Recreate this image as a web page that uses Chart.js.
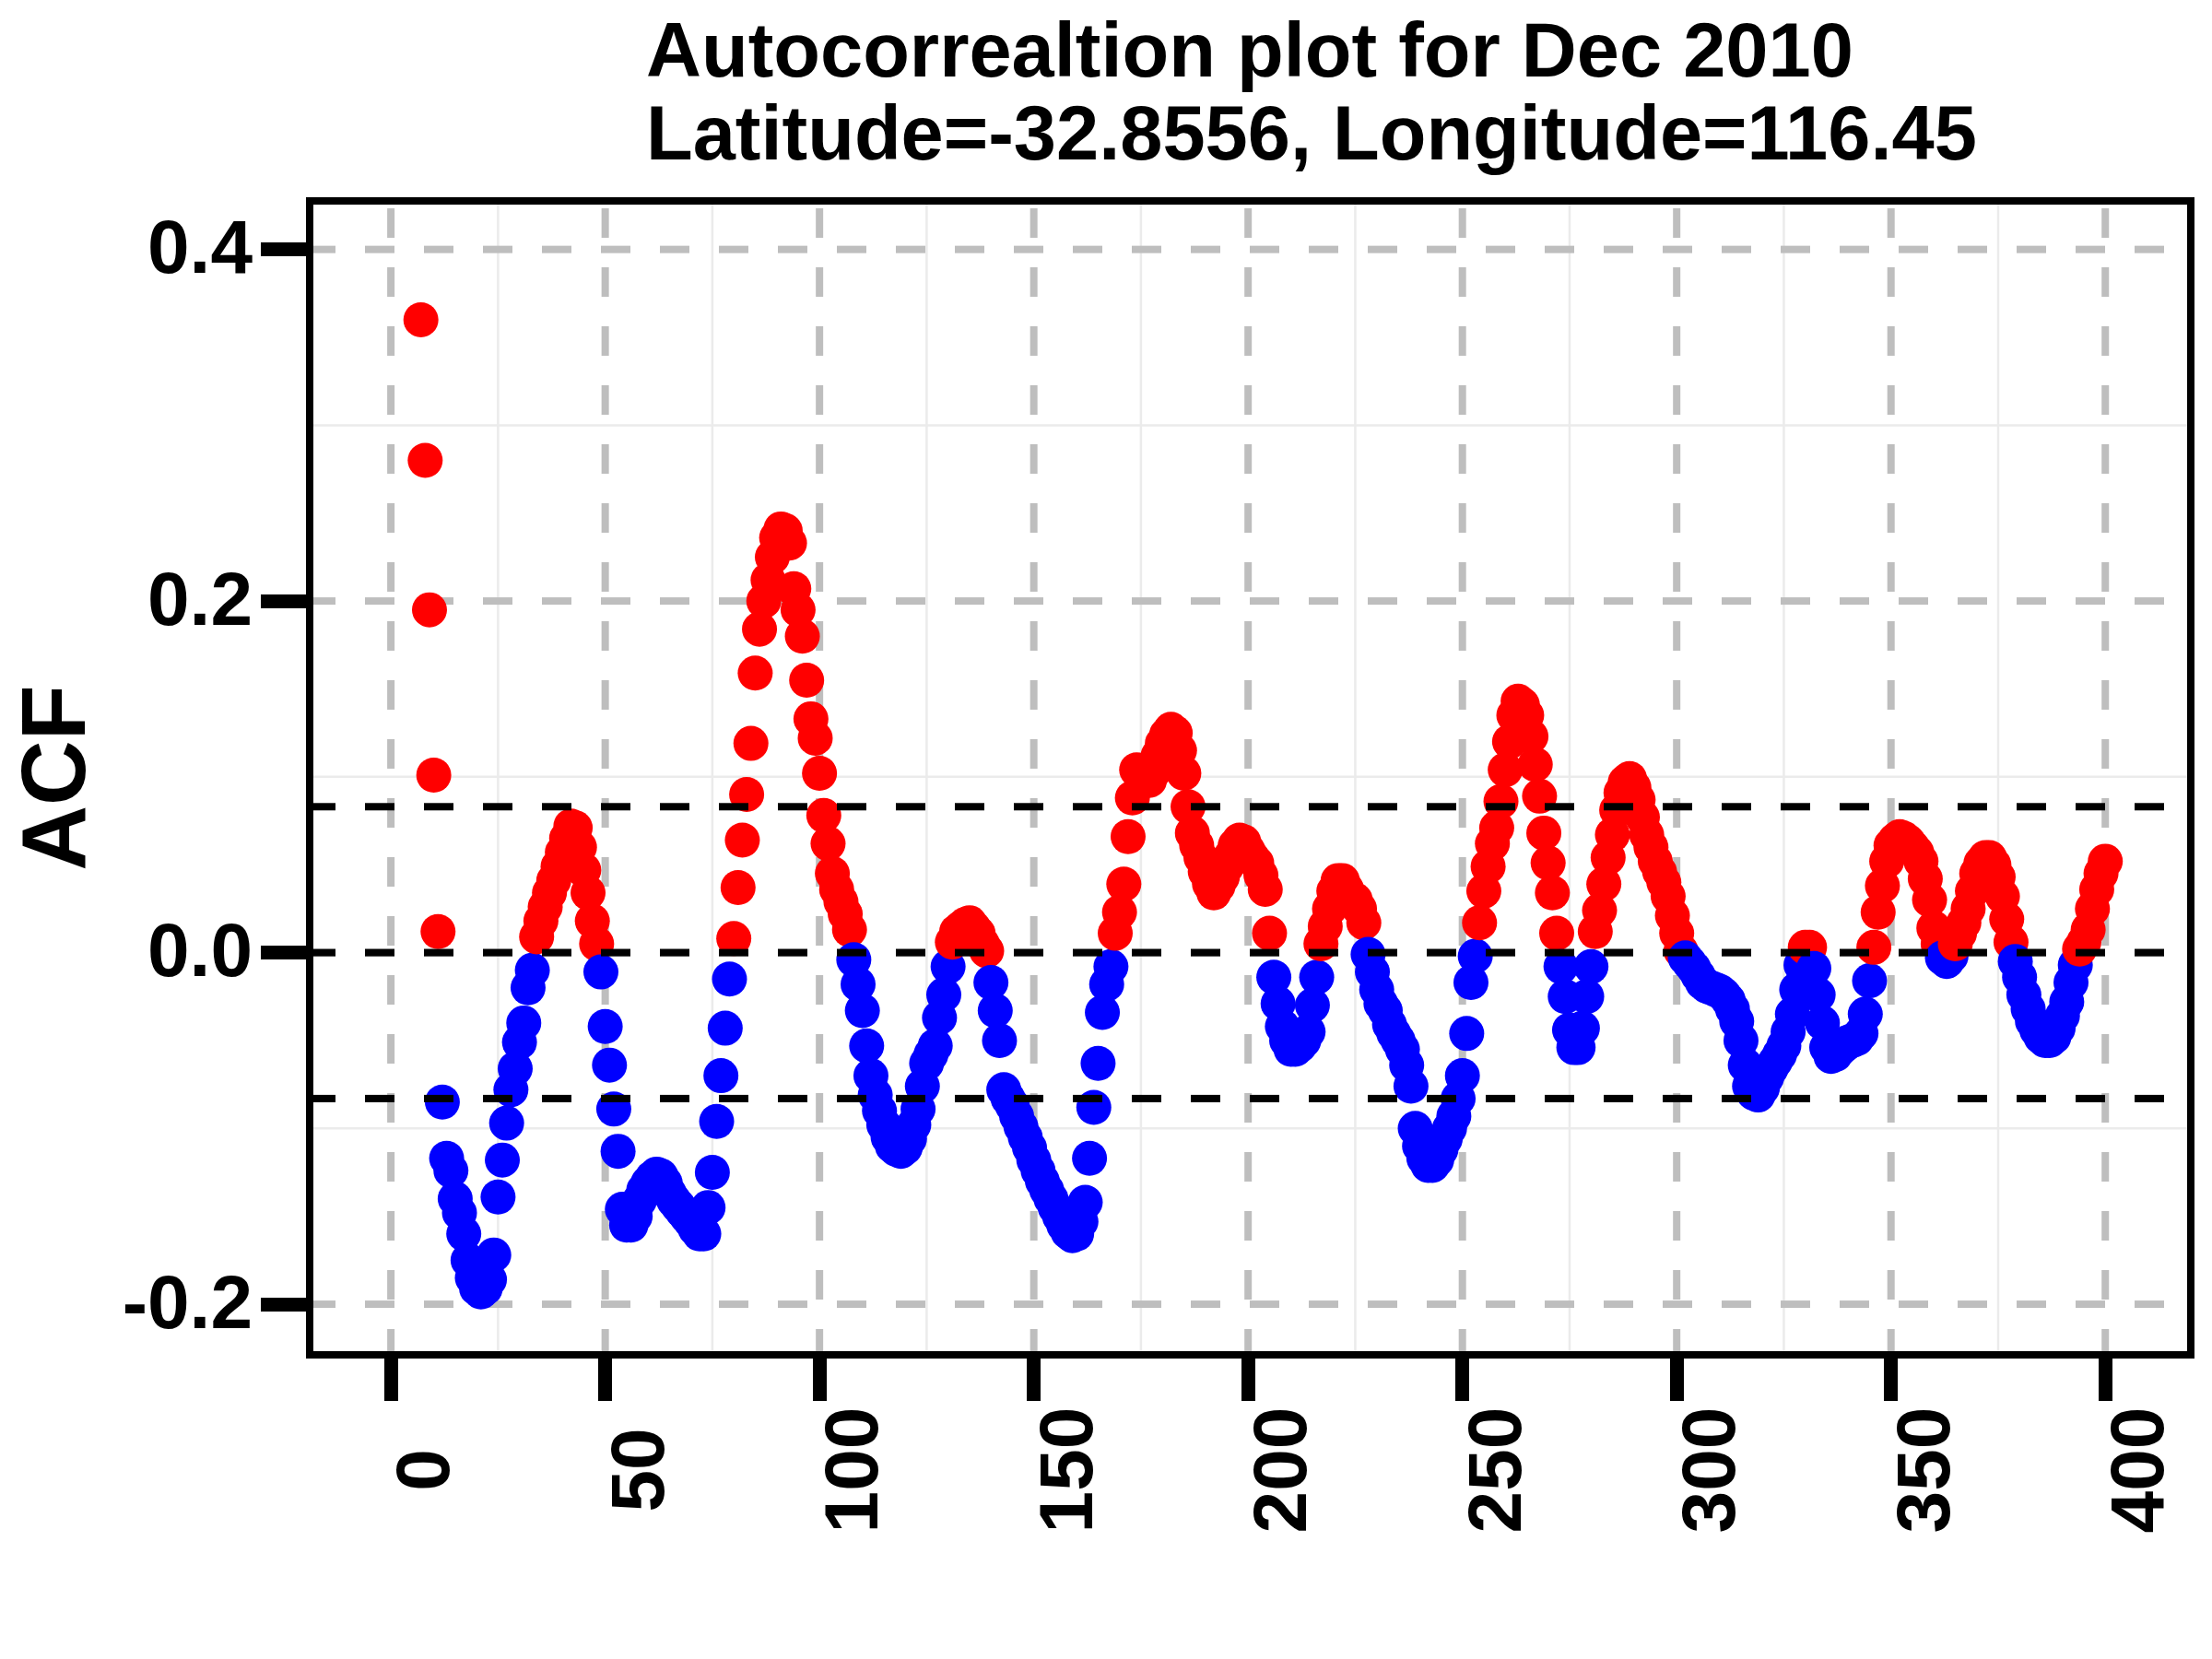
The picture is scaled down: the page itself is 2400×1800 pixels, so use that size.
<!DOCTYPE html>
<html>
<head>
<meta charset="utf-8">
<script src="https://cdn.jsdelivr.net/npm/chart.js@4.4.1/dist/chart.umd.min.js"></script>
<style>html,body{margin:0;padding:0;background:#fff}canvas{display:block}</style>
</head>
<body>
<canvas id="c" width="2400" height="1800" style="width:2400px;height:1800px"></canvas>
<script>
const titleLines = ['Autocorrealtion plot for Dec 2010', 'Latitude=-32.8556, Longitude=116.45'];
const yAxisTitle = 'ACF';

const lags = [
  7,8,9,10,11,12,13,14,15,16,
  17,18,19,20,21,22,23,24,25,26,
  27,28,29,30,31,32,33,34,35,36,
  37,38,39,40,41,42,43,44,45,46,
  47,48,49,50,51,52,53,54,55,56,
  57,58,59,60,61,62,63,64,65,66,
  67,68,69,70,71,72,73,74,75,76,
  77,78,79,80,81,82,83,84,85,86,
  87,88,89,90,91,92,93,94,95,96,
  97,98,99,100,101,102,103,104,105,106,
  107,108,109,110,111,112,113,114,115,116,
  117,118,119,120,121,122,123,124,125,126,
  127,128,129,130,131,132,133,134,135,136,
  137,138,139,140,141,142,143,144,145,146,
  147,148,149,150,151,152,153,154,155,156,
  157,158,159,160,161,162,163,164,165,166,
  167,168,169,170,171,172,173,174,175,176,
  177,178,179,180,181,182,183,184,185,186,
  187,188,189,190,191,192,193,194,195,196,
  197,198,199,200,201,202,203,204,205,206,
  207,208,209,210,211,212,213,214,215,216,
  217,218,219,220,221,222,223,224,225,226,
  227,228,229,230,231,232,233,234,235,236,
  237,238,239,240,241,242,243,244,245,246,
  247,248,249,250,251,252,253,254,255,256,
  257,258,259,260,261,262,263,264,265,266,
  267,268,269,270,271,272,273,274,275,276,
  277,278,279,280,281,282,283,284,285,286,
  287,288,289,290,291,292,293,294,295,296,
  297,298,299,300,301,302,303,304,305,306,
  307,308,309,310,311,312,313,314,315,316,
  317,318,319,320,321,322,323,324,325,326,
  327,328,329,330,331,332,333,334,335,336,
  337,338,339,340,341,342,343,344,345,346,
  347,348,349,350,351,352,353,354,355,356,
  357,358,359,360,361,362,363,364,365,366,
  367,368,369,370,371,372,373,374,375,376,
  377,378,379,380,381,382,383,384,385,386,
  387,388,389,390,391,392,393,394,395,396,
  397,398,399,400
];

const acf = [
  0.360, 0.280, 0.195, 0.101, 0.012, -0.085, -0.117, -0.124, -0.140, -0.148,
  -0.160, -0.175, -0.185, -0.191, -0.193, -0.191, -0.186, -0.172, -0.139, -0.118,
  -0.097, -0.078, -0.066, -0.051, -0.040, -0.020, -0.010, 0.009, 0.018, 0.026,
  0.034, 0.041, 0.049, 0.057, 0.065, 0.072, 0.071, 0.060, 0.047, 0.034,
  0.018, 0.005, -0.011, -0.042, -0.064, -0.089, -0.113, -0.146, -0.155, -0.155,
  -0.150, -0.141, -0.135, -0.131, -0.128, -0.126, -0.127, -0.131, -0.137, -0.141,
  -0.144, -0.147, -0.150, -0.153, -0.157, -0.160, -0.160, -0.145, -0.125, -0.096,
  -0.070, -0.043, -0.015, 0.008, 0.037, 0.064, 0.090, 0.119, 0.159, 0.184,
  0.200, 0.212, 0.225, 0.236, 0.241, 0.240, 0.233, 0.207, 0.195, 0.180,
  0.155, 0.133, 0.122, 0.102, 0.078, 0.062, 0.045, 0.036, 0.029, 0.022,
  0.013, -0.004, -0.018, -0.033, -0.053, -0.070, -0.081, -0.090, -0.098, -0.105,
  -0.110, -0.112, -0.113, -0.111, -0.106, -0.098, -0.089, -0.076, -0.063, -0.058,
  -0.053, -0.037, -0.024, -0.008, 0.006, 0.012, 0.014, 0.016, 0.017, 0.014,
  0.011, 0.005, 0.001, -0.017, -0.033, -0.050, -0.078, -0.083, -0.087, -0.093,
  -0.099, -0.105, -0.111, -0.118, -0.124, -0.130, -0.135, -0.140, -0.145, -0.150,
  -0.155, -0.159, -0.161, -0.160, -0.153, -0.142, -0.117, -0.088, -0.063, -0.034,
  -0.018, -0.008, 0.011, 0.023, 0.039, 0.066, 0.088, 0.104, 0.103, 0.100,
  0.098, 0.103, 0.112, 0.119, 0.124, 0.127, 0.125, 0.115, 0.102, 0.083,
  0.068, 0.061, 0.054, 0.046, 0.039, 0.034, 0.038, 0.043, 0.049, 0.055,
  0.061, 0.064, 0.063, 0.058, 0.054, 0.051, 0.044, 0.036, 0.011, -0.014,
  -0.029, -0.042, -0.050, -0.055, -0.055, -0.053, -0.050, -0.045, -0.030, -0.014,
  0.005, 0.015, 0.025, 0.035, 0.041, 0.041, 0.036, 0.031, 0.030, 0.025,
  0.017, -0.001, -0.011, -0.021, -0.029, -0.033, -0.041, -0.046, -0.050, -0.055,
  -0.064, -0.076, -0.100, -0.110, -0.117, -0.121, -0.121, -0.118, -0.112, -0.106,
  -0.100, -0.093, -0.083, -0.070, -0.046, -0.017, -0.002, 0.017, 0.035, 0.049,
  0.062, 0.071, 0.086, 0.104, 0.120, 0.135, 0.143, 0.141, 0.135, 0.123,
  0.107, 0.089, 0.068, 0.051, 0.034, 0.011, -0.008, -0.025, -0.044, -0.054,
  -0.054, -0.043, -0.025, -0.008, 0.012, 0.024, 0.039, 0.054, 0.067, 0.081,
  0.091, 0.097, 0.099, 0.094, 0.087, 0.077, 0.067, 0.060, 0.052, 0.046,
  0.040, 0.032, 0.021, 0.011, 0.001, -0.003, -0.006, -0.009, -0.013, -0.017,
  -0.019, -0.020, -0.021, -0.022, -0.024, -0.027, -0.032, -0.039, -0.050, -0.064,
  -0.076, -0.080, -0.081, -0.077, -0.071, -0.066, -0.062, -0.058, -0.053, -0.045,
  -0.035, -0.021, -0.007, 0.003, 0.003, -0.009, -0.024, -0.040, -0.054, -0.059,
  -0.058, -0.055, -0.053, -0.051, -0.050, -0.049, -0.046, -0.035, -0.016, 0.003,
  0.023, 0.038, 0.052, 0.061, 0.064, 0.066, 0.065, 0.063, 0.060, 0.057,
  0.052, 0.042, 0.030, 0.014, 0.005, -0.003, -0.005, -0.002, 0.005, 0.011,
  0.017, 0.025, 0.035, 0.045, 0.051, 0.054, 0.054, 0.050, 0.043, 0.032,
  0.019, 0.006, -0.005, -0.014, -0.024, -0.032, -0.039, -0.044, -0.048, -0.050,
  -0.050, -0.048, -0.043, -0.036, -0.028, -0.017, -0.007, 0.002, 0.006, 0.013,
  0.025, 0.036, 0.045, 0.052
];

const xTickValues = [0, 50, 100, 150, 200, 250, 300, 350, 400];
const xTickLabels = ['0', '50', '100', '150', '200', '250', '300', '350', '400'];
const xMinorValues = [25, 75, 125, 175, 225, 275, 325, 375];
const yTickValues = [-0.2, 0, 0.2, 0.4];
const yTickLabels = ['-0.2', '0.0', '0.2', '0.4'];
const yMinorValues = [-0.1, 0.1, 0.3];
const confLines = [-0.083, 0, 0.083];
const xRange = [-18.95, 419.95];
const yRange = [-0.2288, 0.4276];

const FAMILY = '"Liberation Sans", Arial, Helvetica, sans-serif';
const POS_COLOR = '#FF0000';
const NEG_COLOR = '#0000FF';

function strokeLine(ctx, x1, y1, x2, y2) {
  ctx.beginPath();
  ctx.moveTo(x1, y1);
  ctx.lineTo(x2, y2);
  ctx.stroke();
}

const decorPlugin = {
  id: 'decor',
  beforeDatasetsDraw(chart) {
    const {ctx, chartArea: a, scales: {x, y}} = chart;
    ctx.save();
    ctx.beginPath();
    ctx.rect(a.left, a.top, a.right - a.left, a.bottom - a.top);
    ctx.clip();
    ctx.lineCap = 'butt';
    // minor grid
    ctx.strokeStyle = '#EBEBEB';
    ctx.lineWidth = 2.5;
    ctx.setLineDash([]);
    xMinorValues.forEach(v => { const px = x.getPixelForValue(v); strokeLine(ctx, px, a.bottom, px, a.top); });
    yMinorValues.forEach(v => { const py = y.getPixelForValue(v); strokeLine(ctx, a.left, py, a.right, py); });
    // major dashed grey
    ctx.strokeStyle = '#BEBEBE';
    ctx.lineWidth = 8;
    ctx.setLineDash([32, 32]);
    ctx.lineDashOffset = 4;
    xTickValues.forEach(v => { const px = x.getPixelForValue(v); strokeLine(ctx, px, a.bottom, px, a.top); });
    yTickValues.forEach(v => { const py = y.getPixelForValue(v); strokeLine(ctx, a.left, py, a.right, py); });
    ctx.restore();
  },
  afterDatasetsDraw(chart) {
    const {ctx, chartArea: a, scales: {y}} = chart;
    ctx.save();
    ctx.beginPath();
    ctx.rect(a.left, a.top, a.right - a.left, a.bottom - a.top);
    ctx.clip();
    ctx.strokeStyle = '#000000';
    ctx.lineWidth = 8;
    ctx.lineCap = 'butt';
    ctx.setLineDash([32, 32]);
    ctx.lineDashOffset = 4;
    confLines.forEach(v => { const py = y.getPixelForValue(v); strokeLine(ctx, a.left, py, a.right, py); });
    ctx.restore();
    ctx.save();
    ctx.strokeStyle = '#000000';
    ctx.lineWidth = 8;
    ctx.setLineDash([]);
    ctx.strokeRect(a.left, a.top, a.right - a.left, a.bottom - a.top);
    ctx.restore();
  },
  afterDraw(chart) {
    const {ctx, chartArea: a, scales: {x}} = chart;
    ctx.save();
    ctx.fillStyle = '#000000';
    ctx.font = 'bold 82px ' + FAMILY;
    ctx.textAlign = 'center';
    ctx.textBaseline = 'alphabetic';
    xTickValues.forEach((v, i) => {
      const px = x.getPixelForValue(v);
      ctx.save();
      ctx.translate(px + 63, a.bottom + 125);
      ctx.rotate(-Math.PI / 2);
      ctx.fillText(xTickLabels[i], 0, 0);
      ctx.restore();
    });
    ctx.font = 'bold 83px ' + FAMILY;
    ctx.textAlign = 'left';
    titleLines.forEach((t, i) => ctx.fillText(t, 701, 83 + i * 90));
    ctx.restore();
  }
};

new Chart(document.getElementById('c'), {
  type: 'scatter',
  data: {
    datasets: [{
      data: lags.map((l, i) => ({x: l, y: acf[i]})),
      pointRadius: 19,
      pointHoverRadius: 19,
      pointBorderWidth: 0,
      pointHoverBorderWidth: 0,
      pointBackgroundColor: acf.map(v => v > 0 ? POS_COLOR : NEG_COLOR),
      pointHoverBackgroundColor: acf.map(v => v > 0 ? POS_COLOR : NEG_COLOR),
      showLine: false
    }]
  },
  options: {
    responsive: false,
    animation: false,
    devicePixelRatio: 1,
    events: [],
    layout: {padding: {top: 218, right: 23, bottom: 0, left: 0}},
    plugins: {legend: {display: false}, tooltip: {enabled: false}, title: {display: false}},
    scales: {
      x: {
        type: 'linear',
        min: xRange[0],
        max: xRange[1],
        afterBuildTicks: s => { s.ticks = xTickValues.map(v => ({value: v})); },
        afterFit: s => { s.height = 330; },
        grid: {drawOnChartArea: false, drawTicks: true, tickLength: 50, tickWidth: 15, tickColor: '#000000'},
        border: {display: false},
        ticks: {display: false}
      },
      y: {
        type: 'linear',
        min: yRange[0],
        max: yRange[1],
        afterBuildTicks: s => { s.ticks = yTickValues.map(v => ({value: v})); },
        afterFit: s => { s.width = 336; },
        grid: {drawOnChartArea: false, drawTicks: true, tickLength: 53, tickWidth: 15, tickColor: '#000000'},
        border: {display: false},
        ticks: {
          color: '#000000',
          font: {family: FAMILY, size: 82, weight: 'bold'},
          padding: 9,
          labelOffset: 3,
          autoSkip: false,
          callback: (v, i) => yTickLabels[i]
        },
        title: {
          display: true,
          text: yAxisTitle,
          color: '#000000',
          font: {family: FAMILY, size: 98, weight: 'bold'},
          padding: {top: 6, bottom: 0}
        }
      }
    }
  },
  plugins: [decorPlugin]
});
</script>
</body>
</html>
